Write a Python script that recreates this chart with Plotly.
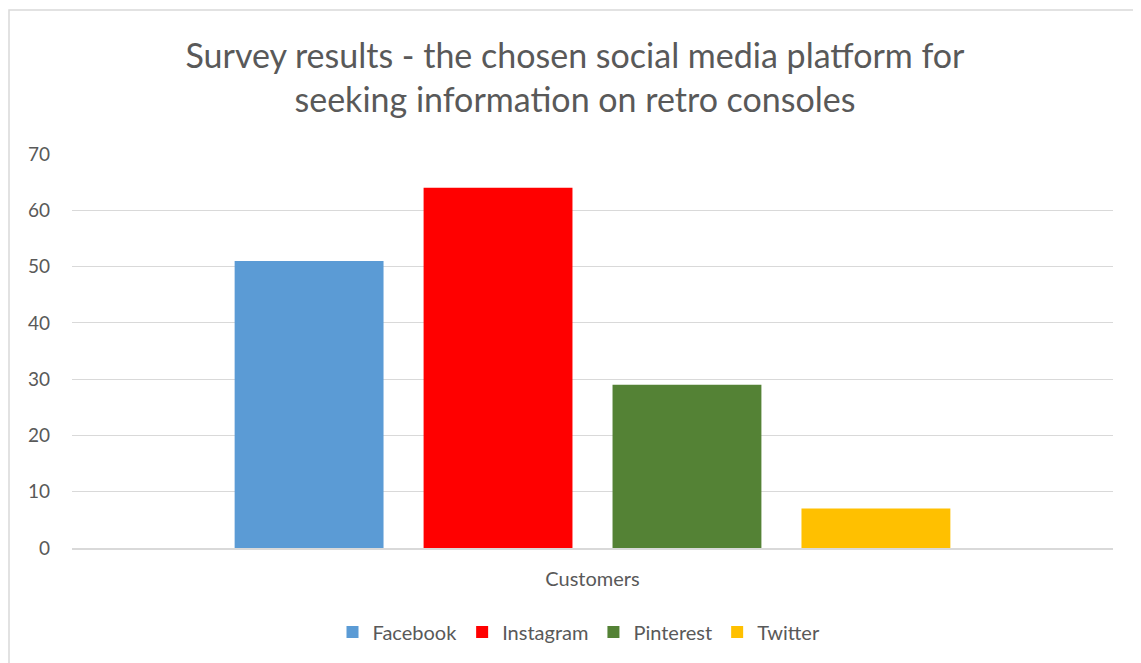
import plotly.graph_objects as go

categories = ["Customers"]
series_names = ["Facebook", "Instagram", "Pinterest", "Twitter"]
series_values = [[51], [64], [29], [7]]
series_colors = ["#5B9BD5", "#FF0000", "#548235", "#FFC000"]
y_ticks = [0, 10, 20, 30, 40, 50, 60, 70]

fig = go.Figure()
for name, vals, col in zip(series_names, series_values, series_colors):
    fig.add_trace(go.Bar(x=categories, y=vals, name=name, marker=dict(color=col, line=dict(width=0))))

txt = "#595959"
L, T, R, B = 64, 146, 36, 123
pw, ph = 1141 - L - R, 663 - T - B
fig.update_layout(
    width=1141, height=663,
    margin=dict(l=L, r=R, t=T, b=B),
    paper_bgcolor="white", plot_bgcolor="white",
    barmode="group", bargap=0.274, bargroupgap=0.212,
    title=dict(
        text="Survey results - the chosen social media platform for<br>seeking information on retro consoles",
        x=567 / 1141, xanchor="center", y=0.91, yanchor="middle",
        font=dict(family="Lato", size=34, color=txt),
    ),
    font=dict(family="Lato", color=txt, size=19),
    xaxis=dict(showgrid=False, showline=True, linecolor="#d9d9d9", linewidth=1.5,
               ticks="", tickfont=dict(size=20, color=txt), ticklabelstandoff=12),
    yaxis=dict(range=[0, 70], tickvals=y_ticks, showgrid=True, gridcolor="#d9d9d9",
               gridwidth=1.2, zeroline=False, ticks="", showline=False,
               tickfont=dict(size=19, color=txt), ticklabelstandoff=21),
    legend=dict(orientation="h", x=(579 - 8 - L) / pw, xanchor="center", y=(540 - 624) / ph,
                yanchor="middle", font=dict(size=20, color=txt), itemwidth=30,
                traceorder="normal"),
    shapes=[dict(type="rect", xref="paper", yref="paper",
                 x0=(1 - L) / pw, x1=1.2, y0=-0.6, y1=(540 - 2) / ph,
                 line=dict(color="#d9d9d9", width=1.5), layer="below")],
)

fig.write_html("out.html")
